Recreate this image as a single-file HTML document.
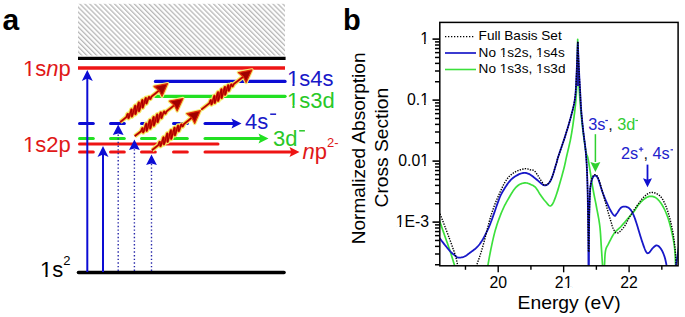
<!DOCTYPE html>
<html><head><meta charset="utf-8"><style>
html,body{margin:0;padding:0;background:#fff;width:685px;height:317px;overflow:hidden}
svg{display:block}
text{font-family:"Liberation Sans", sans-serif}
</style></head><body>
<svg width="685" height="317" viewBox="0 0 685 317" font-family='"Liberation Sans", sans-serif'><text x="2.5" y="30" font-size="30" font-weight="bold" fill="#000">a</text>
<defs><pattern id="hatch" patternUnits="userSpaceOnUse" width="3.5" height="3.5" patternTransform="translate(78.8,3.8) rotate(-45)"><rect width="3.5" height="3.5" fill="#fff"/><rect x="0" y="0" width="1.3" height="3.5" fill="#b8b8b8"/></pattern></defs>
<rect x="78" y="3.8" width="207" height="51.7" fill="url(#hatch)"/>
<line x1="78.00" y1="58.30" x2="285.60" y2="58.30" stroke="#000" stroke-width="3.2" stroke-linecap="butt" />
<line x1="78.00" y1="68.00" x2="285.00" y2="68.00" stroke="#ee1414" stroke-width="3.5" stroke-linecap="butt" />
<line x1="155.50" y1="81.40" x2="285.00" y2="81.40" stroke="#0c0cd4" stroke-width="3.3" stroke-linecap="round" />
<line x1="155.50" y1="96.30" x2="285.00" y2="96.30" stroke="#22e022" stroke-width="3.3" stroke-linecap="round" />
<line x1="79.50" y1="123.60" x2="93.30" y2="123.60" stroke="#0c0cd4" stroke-width="3" stroke-linecap="round" />
<line x1="110.50" y1="123.60" x2="124.30" y2="123.60" stroke="#0c0cd4" stroke-width="3" stroke-linecap="round" />
<line x1="141.50" y1="123.60" x2="155.30" y2="123.60" stroke="#0c0cd4" stroke-width="3" stroke-linecap="round" />
<line x1="173.50" y1="123.60" x2="187.30" y2="123.60" stroke="#0c0cd4" stroke-width="3" stroke-linecap="round" />
<line x1="79.50" y1="138.60" x2="93.30" y2="138.60" stroke="#22e022" stroke-width="3" stroke-linecap="round" />
<line x1="110.50" y1="138.60" x2="124.30" y2="138.60" stroke="#22e022" stroke-width="3" stroke-linecap="round" />
<line x1="141.50" y1="138.60" x2="155.30" y2="138.60" stroke="#22e022" stroke-width="3" stroke-linecap="round" />
<line x1="173.50" y1="138.60" x2="187.30" y2="138.60" stroke="#22e022" stroke-width="3" stroke-linecap="round" />
<line x1="79.50" y1="152.10" x2="93.30" y2="152.10" stroke="#ee1414" stroke-width="3" stroke-linecap="round" />
<line x1="110.50" y1="152.10" x2="124.30" y2="152.10" stroke="#ee1414" stroke-width="3" stroke-linecap="round" />
<line x1="141.50" y1="152.10" x2="155.30" y2="152.10" stroke="#ee1414" stroke-width="3" stroke-linecap="round" />
<line x1="173.50" y1="152.10" x2="187.30" y2="152.10" stroke="#ee1414" stroke-width="3" stroke-linecap="round" />
<line x1="79.50" y1="144.10" x2="218.00" y2="144.10" stroke="#ee1414" stroke-width="3" stroke-linecap="round" />
<line x1="205.00" y1="123.60" x2="235.50" y2="123.60" stroke="#0c0cd4" stroke-width="3" stroke-linecap="round" />
<path d="M241.5,123.6 L231.5,118.6 L233.5,123.6 L231.5,128.6 Z" fill="#0c0cd4"/>
<line x1="205.00" y1="138.60" x2="262.50" y2="138.60" stroke="#22e022" stroke-width="3" stroke-linecap="round" />
<path d="M268.5,138.6 L258.5,133.6 L260.5,138.6 L258.5,143.6 Z" fill="#22e022"/>
<line x1="205.00" y1="152.10" x2="293.50" y2="152.10" stroke="#ee1414" stroke-width="3" stroke-linecap="round" />
<path d="M299.5,152.1 L289.5,147.1 L291.5,152.1 L289.5,157.1 Z" fill="#ee1414"/>
<line x1="78.50" y1="272.50" x2="284.00" y2="272.50" stroke="#000" stroke-width="3.6" stroke-linecap="round" />
<line x1="87.30" y1="272.00" x2="87.30" y2="78.00" stroke="#0c0cd4" stroke-width="2" stroke-linecap="butt" />
<path d="M87.3,70 L92.8,81 L87.3,78.5 L81.8,81 Z" fill="#0c0cd4"/>
<line x1="103.00" y1="272.00" x2="103.00" y2="154.00" stroke="#0c0cd4" stroke-width="2" stroke-linecap="butt" />
<path d="M103,146 L108.5,157 L103,154.5 L97.5,157 Z" fill="#0c0cd4"/>
<line x1="118.20" y1="271.00" x2="118.20" y2="133.60" stroke="#2424a8" stroke-width="1.4" stroke-linecap="butt" stroke-dasharray="1.4 2.25"/>
<path d="M118.2,124.6 L123.60000000000001,135.1 L118.2,133.5 L112.8,135.1 Z" fill="#0c0cd4"/>
<line x1="134.40" y1="271.00" x2="134.40" y2="148.60" stroke="#2424a8" stroke-width="1.4" stroke-linecap="butt" stroke-dasharray="1.4 2.25"/>
<path d="M134.4,139.6 L139.8,150.1 L134.4,148.5 L129.0,150.1 Z" fill="#0c0cd4"/>
<line x1="151.50" y1="271.00" x2="151.50" y2="163.60" stroke="#2424a8" stroke-width="1.4" stroke-linecap="butt" stroke-dasharray="1.4 2.25"/>
<path d="M151.5,154.6 L156.9,165.1 L151.5,163.5 L146.1,165.1 Z" fill="#0c0cd4"/>
<path d="M120.20,122.10 L126.36,117.09 L126.74,116.06 L127.12,115.01 L127.47,114.21 L127.75,113.84 L127.95,113.99 L128.08,114.64 L128.16,115.64 L128.21,116.75 L128.30,117.70 L128.44,118.22 L128.68,118.12 L129.03,117.34 L129.46,115.96 L129.95,114.18 L130.46,112.32 L130.92,110.71 L131.30,109.66 L131.57,109.36 L131.72,109.88 L131.77,111.09 L131.75,112.72 L131.72,114.42 L131.73,115.80 L131.85,116.52 L132.10,116.37 L132.48,115.32 L132.98,113.52 L133.54,111.26 L134.11,108.97 L134.62,107.04 L135.03,105.85 L135.29,105.61 L135.41,106.32 L135.40,107.84 L135.33,109.81 L135.26,111.81 L135.25,113.39 L135.35,114.19 L135.61,114.00 L136.01,112.81 L136.54,110.81 L137.13,108.35 L137.72,105.89 L138.25,103.87 L138.66,102.66 L138.91,102.45 L139.02,103.25 L139.00,104.85 L138.92,106.89 L138.84,108.92 L138.83,110.49 L138.94,111.25 L139.20,111.02 L139.61,109.81 L140.13,107.82 L140.72,105.43 L141.30,103.08 L141.81,101.18 L142.20,100.06 L142.45,99.90 L142.56,100.66 L142.56,102.14 L142.51,103.98 L142.47,105.77 L142.49,107.11 L142.63,107.71 L142.89,107.44 L143.29,106.32 L143.77,104.57 L144.31,102.52 L144.83,100.54 L145.29,98.97 L145.65,98.08 L145.89,97.96 L146.03,98.57 L146.08,99.70 L146.10,101.06 L146.13,102.34 L146.23,103.23 L146.40,103.54 L146.68,103.21 L147.04,102.31 L147.46,101.03 L147.90,99.60 L148.31,98.31 L148.68,97.37 L148.98,96.89 L149.20,96.89 L149.37,97.29 L149.53,97.68 L149.69,98.15 L149.84,98.62 L150.02,98.95 L150.23,99.04 L150.49,98.84 L150.79,98.33 L151.13,97.58 L151.48,96.69 L159.22,90.41" fill="none" stroke="#f2ee66" stroke-width="4.5" stroke-linejoin="round" stroke-linecap="butt"/>
<path d="M167.60,83.60 L154.08,86.46 L159.06,90.54 L162.02,96.24 Z" fill="#f4f07a" stroke="#f4f07a" stroke-width="3.4" stroke-linejoin="round"/>
<path d="M120.20,122.10 L126.36,117.09 L126.74,116.06 L127.12,115.01 L127.47,114.21 L127.75,113.84 L127.95,113.99 L128.08,114.64 L128.16,115.64 L128.21,116.75 L128.30,117.70 L128.44,118.22 L128.68,118.12 L129.03,117.34 L129.46,115.96 L129.95,114.18 L130.46,112.32 L130.92,110.71 L131.30,109.66 L131.57,109.36 L131.72,109.88 L131.77,111.09 L131.75,112.72 L131.72,114.42 L131.73,115.80 L131.85,116.52 L132.10,116.37 L132.48,115.32 L132.98,113.52 L133.54,111.26 L134.11,108.97 L134.62,107.04 L135.03,105.85 L135.29,105.61 L135.41,106.32 L135.40,107.84 L135.33,109.81 L135.26,111.81 L135.25,113.39 L135.35,114.19 L135.61,114.00 L136.01,112.81 L136.54,110.81 L137.13,108.35 L137.72,105.89 L138.25,103.87 L138.66,102.66 L138.91,102.45 L139.02,103.25 L139.00,104.85 L138.92,106.89 L138.84,108.92 L138.83,110.49 L138.94,111.25 L139.20,111.02 L139.61,109.81 L140.13,107.82 L140.72,105.43 L141.30,103.08 L141.81,101.18 L142.20,100.06 L142.45,99.90 L142.56,100.66 L142.56,102.14 L142.51,103.98 L142.47,105.77 L142.49,107.11 L142.63,107.71 L142.89,107.44 L143.29,106.32 L143.77,104.57 L144.31,102.52 L144.83,100.54 L145.29,98.97 L145.65,98.08 L145.89,97.96 L146.03,98.57 L146.08,99.70 L146.10,101.06 L146.13,102.34 L146.23,103.23 L146.40,103.54 L146.68,103.21 L147.04,102.31 L147.46,101.03 L147.90,99.60 L148.31,98.31 L148.68,97.37 L148.98,96.89 L149.20,96.89 L149.37,97.29 L149.53,97.68 L149.69,98.15 L149.84,98.62 L150.02,98.95 L150.23,99.04 L150.49,98.84 L150.79,98.33 L151.13,97.58 L151.48,96.69 L159.22,90.41" fill="none" stroke="#e83010" stroke-width="2.2" stroke-linejoin="round"/>
<path d="M120.20,122.10 L126.36,117.09 L126.74,116.06 L127.12,115.01 L127.47,114.21 L127.75,113.84 L127.95,113.99 L128.08,114.64 L128.16,115.64 L128.21,116.75 L128.30,117.70 L128.44,118.22 L128.68,118.12 L129.03,117.34 L129.46,115.96 L129.95,114.18 L130.46,112.32 L130.92,110.71 L131.30,109.66 L131.57,109.36 L131.72,109.88 L131.77,111.09 L131.75,112.72 L131.72,114.42 L131.73,115.80 L131.85,116.52 L132.10,116.37 L132.48,115.32 L132.98,113.52 L133.54,111.26 L134.11,108.97 L134.62,107.04 L135.03,105.85 L135.29,105.61 L135.41,106.32 L135.40,107.84 L135.33,109.81 L135.26,111.81 L135.25,113.39 L135.35,114.19 L135.61,114.00 L136.01,112.81 L136.54,110.81 L137.13,108.35 L137.72,105.89 L138.25,103.87 L138.66,102.66 L138.91,102.45 L139.02,103.25 L139.00,104.85 L138.92,106.89 L138.84,108.92 L138.83,110.49 L138.94,111.25 L139.20,111.02 L139.61,109.81 L140.13,107.82 L140.72,105.43 L141.30,103.08 L141.81,101.18 L142.20,100.06 L142.45,99.90 L142.56,100.66 L142.56,102.14 L142.51,103.98 L142.47,105.77 L142.49,107.11 L142.63,107.71 L142.89,107.44 L143.29,106.32 L143.77,104.57 L144.31,102.52 L144.83,100.54 L145.29,98.97 L145.65,98.08 L145.89,97.96 L146.03,98.57 L146.08,99.70 L146.10,101.06 L146.13,102.34 L146.23,103.23 L146.40,103.54 L146.68,103.21 L147.04,102.31 L147.46,101.03 L147.90,99.60 L148.31,98.31 L148.68,97.37 L148.98,96.89 L149.20,96.89 L149.37,97.29 L149.53,97.68 L149.69,98.15 L149.84,98.62 L150.02,98.95 L150.23,99.04 L150.49,98.84 L150.79,98.33 L151.13,97.58 L151.48,96.69 L159.22,90.41" fill="none" stroke="#a80000" stroke-width="1.1" stroke-linejoin="round"/>
<path d="M167.60,83.60 L154.08,86.46 L159.06,90.54 L162.02,96.24 Z" fill="#a00000" stroke="#e02808" stroke-width="1.2" stroke-linejoin="round"/>
<path d="M134.70,136.20 L140.98,131.30 L141.36,130.27 L141.75,129.23 L142.10,128.43 L142.39,128.06 L142.59,128.22 L142.73,128.87 L142.81,129.87 L142.87,130.99 L142.96,131.94 L143.11,132.47 L143.35,132.37 L143.70,131.60 L144.14,130.22 L144.64,128.44 L145.15,126.59 L145.62,124.98 L146.00,123.93 L146.28,123.65 L146.43,124.17 L146.48,125.38 L146.46,127.02 L146.44,128.72 L146.46,130.10 L146.59,130.82 L146.84,130.68 L147.22,129.64 L147.73,127.84 L148.29,125.59 L148.87,123.30 L149.39,121.38 L149.79,120.19 L150.06,119.95 L150.18,120.67 L150.19,122.19 L150.12,124.16 L150.05,126.17 L150.04,127.75 L150.15,128.55 L150.41,128.37 L150.82,127.18 L151.35,125.19 L151.95,122.74 L152.55,120.28 L153.08,118.26 L153.49,117.05 L153.75,116.85 L153.86,117.66 L153.85,119.26 L153.78,121.31 L153.70,123.34 L153.70,124.91 L153.81,125.68 L154.08,125.45 L154.49,124.24 L155.02,122.27 L155.61,119.88 L156.19,117.53 L156.71,115.63 L157.10,114.52 L157.36,114.36 L157.47,115.13 L157.48,116.61 L157.44,118.45 L157.40,120.25 L157.43,121.59 L157.57,122.20 L157.84,121.93 L158.23,120.82 L158.73,119.08 L159.26,117.03 L159.79,115.05 L160.26,113.49 L160.62,112.60 L160.87,112.48 L161.01,113.09 L161.07,114.23 L161.09,115.60 L161.13,116.88 L161.23,117.77 L161.41,118.09 L161.69,117.77 L162.06,116.87 L162.48,115.59 L162.92,114.17 L163.34,112.89 L163.72,111.94 L164.02,111.47 L164.25,111.47 L164.42,111.88 L164.59,112.27 L164.75,112.75 L164.91,113.22 L165.09,113.56 L165.31,113.65 L165.57,113.45 L165.87,112.95 L166.22,112.20 L166.58,111.32 L174.49,105.15" fill="none" stroke="#f2ee66" stroke-width="4.5" stroke-linejoin="round" stroke-linecap="butt"/>
<path d="M183.00,98.50 L169.43,101.10 L174.33,105.27 L177.18,111.03 Z" fill="#f4f07a" stroke="#f4f07a" stroke-width="3.4" stroke-linejoin="round"/>
<path d="M134.70,136.20 L140.98,131.30 L141.36,130.27 L141.75,129.23 L142.10,128.43 L142.39,128.06 L142.59,128.22 L142.73,128.87 L142.81,129.87 L142.87,130.99 L142.96,131.94 L143.11,132.47 L143.35,132.37 L143.70,131.60 L144.14,130.22 L144.64,128.44 L145.15,126.59 L145.62,124.98 L146.00,123.93 L146.28,123.65 L146.43,124.17 L146.48,125.38 L146.46,127.02 L146.44,128.72 L146.46,130.10 L146.59,130.82 L146.84,130.68 L147.22,129.64 L147.73,127.84 L148.29,125.59 L148.87,123.30 L149.39,121.38 L149.79,120.19 L150.06,119.95 L150.18,120.67 L150.19,122.19 L150.12,124.16 L150.05,126.17 L150.04,127.75 L150.15,128.55 L150.41,128.37 L150.82,127.18 L151.35,125.19 L151.95,122.74 L152.55,120.28 L153.08,118.26 L153.49,117.05 L153.75,116.85 L153.86,117.66 L153.85,119.26 L153.78,121.31 L153.70,123.34 L153.70,124.91 L153.81,125.68 L154.08,125.45 L154.49,124.24 L155.02,122.27 L155.61,119.88 L156.19,117.53 L156.71,115.63 L157.10,114.52 L157.36,114.36 L157.47,115.13 L157.48,116.61 L157.44,118.45 L157.40,120.25 L157.43,121.59 L157.57,122.20 L157.84,121.93 L158.23,120.82 L158.73,119.08 L159.26,117.03 L159.79,115.05 L160.26,113.49 L160.62,112.60 L160.87,112.48 L161.01,113.09 L161.07,114.23 L161.09,115.60 L161.13,116.88 L161.23,117.77 L161.41,118.09 L161.69,117.77 L162.06,116.87 L162.48,115.59 L162.92,114.17 L163.34,112.89 L163.72,111.94 L164.02,111.47 L164.25,111.47 L164.42,111.88 L164.59,112.27 L164.75,112.75 L164.91,113.22 L165.09,113.56 L165.31,113.65 L165.57,113.45 L165.87,112.95 L166.22,112.20 L166.58,111.32 L174.49,105.15" fill="none" stroke="#e83010" stroke-width="2.2" stroke-linejoin="round"/>
<path d="M134.70,136.20 L140.98,131.30 L141.36,130.27 L141.75,129.23 L142.10,128.43 L142.39,128.06 L142.59,128.22 L142.73,128.87 L142.81,129.87 L142.87,130.99 L142.96,131.94 L143.11,132.47 L143.35,132.37 L143.70,131.60 L144.14,130.22 L144.64,128.44 L145.15,126.59 L145.62,124.98 L146.00,123.93 L146.28,123.65 L146.43,124.17 L146.48,125.38 L146.46,127.02 L146.44,128.72 L146.46,130.10 L146.59,130.82 L146.84,130.68 L147.22,129.64 L147.73,127.84 L148.29,125.59 L148.87,123.30 L149.39,121.38 L149.79,120.19 L150.06,119.95 L150.18,120.67 L150.19,122.19 L150.12,124.16 L150.05,126.17 L150.04,127.75 L150.15,128.55 L150.41,128.37 L150.82,127.18 L151.35,125.19 L151.95,122.74 L152.55,120.28 L153.08,118.26 L153.49,117.05 L153.75,116.85 L153.86,117.66 L153.85,119.26 L153.78,121.31 L153.70,123.34 L153.70,124.91 L153.81,125.68 L154.08,125.45 L154.49,124.24 L155.02,122.27 L155.61,119.88 L156.19,117.53 L156.71,115.63 L157.10,114.52 L157.36,114.36 L157.47,115.13 L157.48,116.61 L157.44,118.45 L157.40,120.25 L157.43,121.59 L157.57,122.20 L157.84,121.93 L158.23,120.82 L158.73,119.08 L159.26,117.03 L159.79,115.05 L160.26,113.49 L160.62,112.60 L160.87,112.48 L161.01,113.09 L161.07,114.23 L161.09,115.60 L161.13,116.88 L161.23,117.77 L161.41,118.09 L161.69,117.77 L162.06,116.87 L162.48,115.59 L162.92,114.17 L163.34,112.89 L163.72,111.94 L164.02,111.47 L164.25,111.47 L164.42,111.88 L164.59,112.27 L164.75,112.75 L164.91,113.22 L165.09,113.56 L165.31,113.65 L165.57,113.45 L165.87,112.95 L166.22,112.20 L166.58,111.32 L174.49,105.15" fill="none" stroke="#a80000" stroke-width="1.1" stroke-linejoin="round"/>
<path d="M183.00,98.50 L169.43,101.10 L174.33,105.27 L177.18,111.03 Z" fill="#a00000" stroke="#e02808" stroke-width="1.2" stroke-linejoin="round"/>
<path d="M152.00,150.20 L158.28,145.06 L158.66,144.02 L159.05,142.97 L159.40,142.17 L159.69,141.79 L159.89,141.94 L160.03,142.58 L160.11,143.57 L160.17,144.68 L160.26,145.62 L160.41,146.14 L160.65,146.03 L161.00,145.25 L161.44,143.86 L161.94,142.07 L162.45,140.21 L162.92,138.59 L163.30,137.54 L163.58,137.24 L163.73,137.75 L163.78,138.95 L163.76,140.58 L163.74,142.27 L163.76,143.64 L163.89,144.36 L164.14,144.21 L164.52,143.15 L165.03,141.34 L165.59,139.08 L166.17,136.78 L166.69,134.85 L167.09,133.66 L167.36,133.40 L167.48,134.11 L167.49,135.62 L167.42,137.59 L167.35,139.58 L167.34,141.16 L167.45,141.95 L167.71,141.76 L168.12,140.56 L168.65,138.55 L169.25,136.09 L169.85,133.62 L170.38,131.60 L170.79,130.38 L171.05,130.17 L171.16,130.97 L171.15,132.56 L171.08,134.60 L171.00,136.62 L171.00,138.18 L171.11,138.94 L171.38,138.70 L171.79,137.48 L172.32,135.50 L172.91,133.10 L173.49,130.74 L174.01,128.83 L174.40,127.71 L174.66,127.55 L174.77,128.30 L174.78,129.77 L174.74,131.61 L174.70,133.39 L174.73,134.73 L174.87,135.33 L175.14,135.04 L175.53,133.92 L176.03,132.17 L176.56,130.11 L177.09,128.12 L177.56,126.55 L177.92,125.65 L178.17,125.53 L178.31,126.13 L178.37,127.26 L178.39,128.62 L178.43,129.88 L178.53,130.77 L178.71,131.08 L178.99,130.74 L179.36,129.84 L179.78,128.55 L180.22,127.12 L180.64,125.82 L181.02,124.87 L181.32,124.39 L181.55,124.38 L181.72,124.78 L181.89,125.16 L182.05,125.63 L182.21,126.09 L182.39,126.42 L182.61,126.51 L182.87,126.29 L183.17,125.78 L183.52,125.02 L183.88,124.13 L191.94,117.54" fill="none" stroke="#f2ee66" stroke-width="4.5" stroke-linejoin="round" stroke-linecap="butt"/>
<path d="M200.30,110.70 L186.79,113.61 L191.78,117.66 L194.77,123.36 Z" fill="#f4f07a" stroke="#f4f07a" stroke-width="3.4" stroke-linejoin="round"/>
<path d="M152.00,150.20 L158.28,145.06 L158.66,144.02 L159.05,142.97 L159.40,142.17 L159.69,141.79 L159.89,141.94 L160.03,142.58 L160.11,143.57 L160.17,144.68 L160.26,145.62 L160.41,146.14 L160.65,146.03 L161.00,145.25 L161.44,143.86 L161.94,142.07 L162.45,140.21 L162.92,138.59 L163.30,137.54 L163.58,137.24 L163.73,137.75 L163.78,138.95 L163.76,140.58 L163.74,142.27 L163.76,143.64 L163.89,144.36 L164.14,144.21 L164.52,143.15 L165.03,141.34 L165.59,139.08 L166.17,136.78 L166.69,134.85 L167.09,133.66 L167.36,133.40 L167.48,134.11 L167.49,135.62 L167.42,137.59 L167.35,139.58 L167.34,141.16 L167.45,141.95 L167.71,141.76 L168.12,140.56 L168.65,138.55 L169.25,136.09 L169.85,133.62 L170.38,131.60 L170.79,130.38 L171.05,130.17 L171.16,130.97 L171.15,132.56 L171.08,134.60 L171.00,136.62 L171.00,138.18 L171.11,138.94 L171.38,138.70 L171.79,137.48 L172.32,135.50 L172.91,133.10 L173.49,130.74 L174.01,128.83 L174.40,127.71 L174.66,127.55 L174.77,128.30 L174.78,129.77 L174.74,131.61 L174.70,133.39 L174.73,134.73 L174.87,135.33 L175.14,135.04 L175.53,133.92 L176.03,132.17 L176.56,130.11 L177.09,128.12 L177.56,126.55 L177.92,125.65 L178.17,125.53 L178.31,126.13 L178.37,127.26 L178.39,128.62 L178.43,129.88 L178.53,130.77 L178.71,131.08 L178.99,130.74 L179.36,129.84 L179.78,128.55 L180.22,127.12 L180.64,125.82 L181.02,124.87 L181.32,124.39 L181.55,124.38 L181.72,124.78 L181.89,125.16 L182.05,125.63 L182.21,126.09 L182.39,126.42 L182.61,126.51 L182.87,126.29 L183.17,125.78 L183.52,125.02 L183.88,124.13 L191.94,117.54" fill="none" stroke="#e83010" stroke-width="2.2" stroke-linejoin="round"/>
<path d="M152.00,150.20 L158.28,145.06 L158.66,144.02 L159.05,142.97 L159.40,142.17 L159.69,141.79 L159.89,141.94 L160.03,142.58 L160.11,143.57 L160.17,144.68 L160.26,145.62 L160.41,146.14 L160.65,146.03 L161.00,145.25 L161.44,143.86 L161.94,142.07 L162.45,140.21 L162.92,138.59 L163.30,137.54 L163.58,137.24 L163.73,137.75 L163.78,138.95 L163.76,140.58 L163.74,142.27 L163.76,143.64 L163.89,144.36 L164.14,144.21 L164.52,143.15 L165.03,141.34 L165.59,139.08 L166.17,136.78 L166.69,134.85 L167.09,133.66 L167.36,133.40 L167.48,134.11 L167.49,135.62 L167.42,137.59 L167.35,139.58 L167.34,141.16 L167.45,141.95 L167.71,141.76 L168.12,140.56 L168.65,138.55 L169.25,136.09 L169.85,133.62 L170.38,131.60 L170.79,130.38 L171.05,130.17 L171.16,130.97 L171.15,132.56 L171.08,134.60 L171.00,136.62 L171.00,138.18 L171.11,138.94 L171.38,138.70 L171.79,137.48 L172.32,135.50 L172.91,133.10 L173.49,130.74 L174.01,128.83 L174.40,127.71 L174.66,127.55 L174.77,128.30 L174.78,129.77 L174.74,131.61 L174.70,133.39 L174.73,134.73 L174.87,135.33 L175.14,135.04 L175.53,133.92 L176.03,132.17 L176.56,130.11 L177.09,128.12 L177.56,126.55 L177.92,125.65 L178.17,125.53 L178.31,126.13 L178.37,127.26 L178.39,128.62 L178.43,129.88 L178.53,130.77 L178.71,131.08 L178.99,130.74 L179.36,129.84 L179.78,128.55 L180.22,127.12 L180.64,125.82 L181.02,124.87 L181.32,124.39 L181.55,124.38 L181.72,124.78 L181.89,125.16 L182.05,125.63 L182.21,126.09 L182.39,126.42 L182.61,126.51 L182.87,126.29 L183.17,125.78 L183.52,125.02 L183.88,124.13 L191.94,117.54" fill="none" stroke="#a80000" stroke-width="1.1" stroke-linejoin="round"/>
<path d="M200.30,110.70 L186.79,113.61 L191.78,117.66 L194.77,123.36 Z" fill="#a00000" stroke="#e02808" stroke-width="1.2" stroke-linejoin="round"/>
<path d="M201.30,109.60 L209.40,103.25 L209.77,102.22 L210.14,101.20 L210.48,100.41 L210.75,100.05 L210.94,100.21 L211.06,100.87 L211.13,101.89 L211.18,103.01 L211.25,103.98 L211.39,104.51 L211.62,104.43 L211.96,103.66 L212.38,102.29 L212.87,100.53 L213.36,98.68 L213.82,97.08 L214.19,96.04 L214.45,95.77 L214.59,96.30 L214.63,97.52 L214.60,99.16 L214.56,100.88 L214.57,102.27 L214.68,103.00 L214.92,102.87 L215.29,101.83 L215.78,100.04 L216.34,97.80 L216.90,95.52 L217.40,93.61 L217.80,92.43 L218.05,92.20 L218.16,92.93 L218.15,94.46 L218.07,96.44 L217.99,98.45 L217.97,100.05 L218.06,100.86 L218.31,100.69 L218.70,99.51 L219.22,97.52 L219.81,95.08 L220.39,92.63 L220.91,90.63 L221.31,89.43 L221.56,89.24 L221.65,90.05 L221.63,91.67 L221.54,93.72 L221.45,95.76 L221.43,97.35 L221.54,98.12 L221.79,97.90 L222.19,96.70 L222.70,94.73 L223.27,92.36 L223.85,90.01 L224.35,88.13 L224.73,87.03 L224.97,86.88 L225.07,87.66 L225.07,89.14 L225.01,91.00 L224.96,92.80 L224.97,94.16 L225.10,94.77 L225.36,94.51 L225.74,93.41 L226.22,91.68 L226.74,89.64 L227.26,87.67 L227.71,86.12 L228.06,85.23 L228.30,85.13 L228.42,85.75 L228.47,86.90 L228.48,88.28 L228.51,89.56 L228.59,90.47 L228.76,90.79 L229.02,90.48 L229.38,89.59 L229.78,88.32 L230.21,86.91 L230.62,85.64 L230.98,84.70 L231.27,84.24 L231.49,84.25 L231.64,84.67 L231.80,85.07 L231.95,85.55 L232.10,86.04 L232.26,86.38 L232.46,86.49 L232.71,86.30 L233.01,85.80 L233.33,85.06 L233.68,84.19 L243.40,76.57" fill="none" stroke="#f2ee66" stroke-width="4.5" stroke-linejoin="round" stroke-linecap="butt"/>
<path d="M251.90,69.90 L238.33,72.54 L243.25,76.69 L246.11,82.45 Z" fill="#f4f07a" stroke="#f4f07a" stroke-width="3.4" stroke-linejoin="round"/>
<path d="M201.30,109.60 L209.40,103.25 L209.77,102.22 L210.14,101.20 L210.48,100.41 L210.75,100.05 L210.94,100.21 L211.06,100.87 L211.13,101.89 L211.18,103.01 L211.25,103.98 L211.39,104.51 L211.62,104.43 L211.96,103.66 L212.38,102.29 L212.87,100.53 L213.36,98.68 L213.82,97.08 L214.19,96.04 L214.45,95.77 L214.59,96.30 L214.63,97.52 L214.60,99.16 L214.56,100.88 L214.57,102.27 L214.68,103.00 L214.92,102.87 L215.29,101.83 L215.78,100.04 L216.34,97.80 L216.90,95.52 L217.40,93.61 L217.80,92.43 L218.05,92.20 L218.16,92.93 L218.15,94.46 L218.07,96.44 L217.99,98.45 L217.97,100.05 L218.06,100.86 L218.31,100.69 L218.70,99.51 L219.22,97.52 L219.81,95.08 L220.39,92.63 L220.91,90.63 L221.31,89.43 L221.56,89.24 L221.65,90.05 L221.63,91.67 L221.54,93.72 L221.45,95.76 L221.43,97.35 L221.54,98.12 L221.79,97.90 L222.19,96.70 L222.70,94.73 L223.27,92.36 L223.85,90.01 L224.35,88.13 L224.73,87.03 L224.97,86.88 L225.07,87.66 L225.07,89.14 L225.01,91.00 L224.96,92.80 L224.97,94.16 L225.10,94.77 L225.36,94.51 L225.74,93.41 L226.22,91.68 L226.74,89.64 L227.26,87.67 L227.71,86.12 L228.06,85.23 L228.30,85.13 L228.42,85.75 L228.47,86.90 L228.48,88.28 L228.51,89.56 L228.59,90.47 L228.76,90.79 L229.02,90.48 L229.38,89.59 L229.78,88.32 L230.21,86.91 L230.62,85.64 L230.98,84.70 L231.27,84.24 L231.49,84.25 L231.64,84.67 L231.80,85.07 L231.95,85.55 L232.10,86.04 L232.26,86.38 L232.46,86.49 L232.71,86.30 L233.01,85.80 L233.33,85.06 L233.68,84.19 L243.40,76.57" fill="none" stroke="#e83010" stroke-width="2.2" stroke-linejoin="round"/>
<path d="M201.30,109.60 L209.40,103.25 L209.77,102.22 L210.14,101.20 L210.48,100.41 L210.75,100.05 L210.94,100.21 L211.06,100.87 L211.13,101.89 L211.18,103.01 L211.25,103.98 L211.39,104.51 L211.62,104.43 L211.96,103.66 L212.38,102.29 L212.87,100.53 L213.36,98.68 L213.82,97.08 L214.19,96.04 L214.45,95.77 L214.59,96.30 L214.63,97.52 L214.60,99.16 L214.56,100.88 L214.57,102.27 L214.68,103.00 L214.92,102.87 L215.29,101.83 L215.78,100.04 L216.34,97.80 L216.90,95.52 L217.40,93.61 L217.80,92.43 L218.05,92.20 L218.16,92.93 L218.15,94.46 L218.07,96.44 L217.99,98.45 L217.97,100.05 L218.06,100.86 L218.31,100.69 L218.70,99.51 L219.22,97.52 L219.81,95.08 L220.39,92.63 L220.91,90.63 L221.31,89.43 L221.56,89.24 L221.65,90.05 L221.63,91.67 L221.54,93.72 L221.45,95.76 L221.43,97.35 L221.54,98.12 L221.79,97.90 L222.19,96.70 L222.70,94.73 L223.27,92.36 L223.85,90.01 L224.35,88.13 L224.73,87.03 L224.97,86.88 L225.07,87.66 L225.07,89.14 L225.01,91.00 L224.96,92.80 L224.97,94.16 L225.10,94.77 L225.36,94.51 L225.74,93.41 L226.22,91.68 L226.74,89.64 L227.26,87.67 L227.71,86.12 L228.06,85.23 L228.30,85.13 L228.42,85.75 L228.47,86.90 L228.48,88.28 L228.51,89.56 L228.59,90.47 L228.76,90.79 L229.02,90.48 L229.38,89.59 L229.78,88.32 L230.21,86.91 L230.62,85.64 L230.98,84.70 L231.27,84.24 L231.49,84.25 L231.64,84.67 L231.80,85.07 L231.95,85.55 L232.10,86.04 L232.26,86.38 L232.46,86.49 L232.71,86.30 L233.01,85.80 L233.33,85.06 L233.68,84.19 L243.40,76.57" fill="none" stroke="#a80000" stroke-width="1.1" stroke-linejoin="round"/>
<path d="M251.90,69.90 L238.33,72.54 L243.25,76.69 L246.11,82.45 Z" fill="#a00000" stroke="#e02808" stroke-width="1.2" stroke-linejoin="round"/>
<text x="23" y="76.2" font-size="22" fill="#e01818" text-anchor="start" font-weight="normal" >1s<tspan font-style="italic">n</tspan>p</text>
<text x="23" y="151.9" font-size="22" fill="#e01818" text-anchor="start" font-weight="normal" >1s2p</text>
<text x="40" y="277.1" font-size="22" fill="#000" text-anchor="start" font-weight="normal" >1s<tspan font-size="13" dy="-12">2</tspan></text>
<text x="287" y="85.9" font-size="22" fill="#1818c8" text-anchor="start" font-weight="normal" >1s4s</text>
<text x="287" y="107.5" font-size="22" fill="#28c828" text-anchor="start" font-weight="normal" >1s3d</text>
<rect x="23.77" y="73.77" width="4.66" height="3.63" fill="#fff"/>
<rect x="30.55" y="73.77" width="4.51" height="3.63" fill="#fff"/>
<rect x="23.77" y="149.47" width="4.66" height="3.63" fill="#fff"/>
<rect x="30.55" y="149.47" width="4.51" height="3.63" fill="#fff"/>
<rect x="40.77" y="274.67" width="4.66" height="3.63" fill="#fff"/>
<rect x="47.55" y="274.67" width="4.51" height="3.63" fill="#fff"/>
<rect x="287.77" y="83.47" width="4.66" height="3.63" fill="#fff"/>
<rect x="294.55" y="83.47" width="4.51" height="3.63" fill="#fff"/>
<rect x="287.77" y="105.07" width="4.66" height="3.63" fill="#fff"/>
<rect x="294.55" y="105.07" width="4.51" height="3.63" fill="#fff"/>
<text x="245" y="129" font-size="22" fill="#1818c8" text-anchor="start" font-weight="normal" >4s</text>
<line x1="270.20" y1="114.20" x2="276.10" y2="114.20" stroke="#1818c8" stroke-width="1.5" stroke-linecap="butt" />
<text x="273" y="145.6" font-size="22" fill="#28c828" text-anchor="start" font-weight="normal" >3d</text>
<line x1="299.20" y1="130.80" x2="304.90" y2="130.80" stroke="#28c828" stroke-width="1.5" stroke-linecap="butt" />
<text x="302.6" y="159.2" font-size="22" fill="#e01818" text-anchor="start" font-weight="normal" ><tspan font-style="italic">n</tspan>p<tspan font-size="13" dy="-12">2-</tspan></text>
<text x="343" y="30" font-size="29" font-weight="bold" fill="#000">b</text>
<clipPath id="pc"><rect x="439.8" y="22.4" width="238.3" height="243.4"/></clipPath>
<g clip-path="url(#pc)">
<path d="M438.50,217.50 L438.59,217.80 L438.65,217.98 L438.68,218.11 L438.72,218.27 L438.80,218.52 L438.94,218.95 L439.16,219.61 L439.50,220.60 L439.97,221.96 L440.55,223.67 L441.23,225.62 L441.96,227.74 L442.73,229.94 L443.49,232.14 L444.22,234.26 L444.90,236.20 L445.53,237.99 L446.14,239.73 L446.75,241.42 L447.34,243.08 L447.93,244.74 L448.52,246.42 L449.11,248.13 L449.70,249.90 L450.32,251.79 L450.97,253.81 L451.63,255.90 L452.28,257.99 L452.91,260.02 L453.48,261.90 L453.99,263.59 L454.40,265.00 L454.71,266.11 L454.93,266.96 L455.08,267.61 L455.17,268.13 L455.25,268.57 L455.31,268.99 L455.39,269.44 L455.50,270.00" fill="none" stroke="#3ce03c" stroke-width="1.7" stroke-linejoin="round" />
<path d="M486.80,272.00 L486.91,271.32 L487.00,270.75 L487.08,270.22 L487.17,269.68 L487.27,269.04 L487.40,268.26 L487.57,267.27 L487.80,266.00 L488.08,264.44 L488.39,262.63 L488.74,260.62 L489.12,258.46 L489.54,256.19 L489.97,253.86 L490.43,251.51 L490.90,249.20 L491.39,246.86 L491.91,244.43 L492.44,241.93 L493.01,239.39 L493.59,236.85 L494.20,234.34 L494.84,231.88 L495.50,229.50 L496.20,227.17 L496.94,224.85 L497.71,222.55 L498.50,220.29 L499.30,218.09 L500.11,215.96 L500.91,213.93 L501.70,212.00 L502.46,210.21 L503.20,208.55 L503.93,206.99 L504.67,205.49 L505.42,204.04 L506.20,202.59 L507.02,201.12 L507.90,199.60 L508.84,197.98 L509.84,196.26 L510.87,194.52 L511.94,192.78 L513.02,191.11 L514.11,189.56 L515.19,188.17 L516.25,187.00 L517.30,186.04 L518.36,185.23 L519.43,184.57 L520.49,184.03 L521.55,183.61 L522.59,183.29 L523.61,183.06 L524.60,182.90 L525.58,182.86 L526.57,182.97 L527.56,183.19 L528.52,183.51 L529.44,183.87 L530.32,184.27 L531.15,184.65 L531.90,185.00 L532.56,185.31 L533.14,185.60 L533.66,185.89 L534.13,186.21 L534.58,186.56 L535.03,186.96 L535.50,187.44 L536.00,188.00 L536.53,188.67 L537.06,189.44 L537.60,190.28 L538.14,191.17 L538.69,192.09 L539.24,193.02 L539.81,193.93 L540.40,194.80 L541.00,195.66 L541.62,196.54 L542.25,197.43 L542.89,198.31 L543.54,199.17 L544.19,200.00 L544.85,200.78 L545.50,201.50 L546.15,202.25 L546.81,203.08 L547.48,203.92 L548.14,204.69 L548.81,205.34 L549.48,205.79 L550.14,205.96 L550.80,205.80 L551.44,205.34 L552.06,204.66 L552.67,203.76 L553.27,202.63 L553.90,201.28 L554.55,199.69 L555.25,197.87 L556.00,195.80 L556.84,193.32 L557.77,190.37 L558.76,187.08 L559.76,183.60 L560.76,180.09 L561.70,176.68 L562.56,173.54 L563.30,170.80 L563.91,168.48 L564.41,166.46 L564.83,164.65 L565.20,162.97 L565.55,161.34 L565.89,159.69 L566.27,157.94 L566.70,156.00 L567.19,153.91 L567.70,151.77 L568.23,149.57 L568.76,147.33 L569.30,145.03 L569.82,142.69 L570.33,140.31 L570.80,137.90 L571.25,135.42 L571.69,132.84 L572.12,130.21 L572.53,127.54 L572.93,124.87 L573.31,122.22 L573.66,119.62 L574.00,117.10 L574.31,114.69 L574.61,112.36 L574.88,110.10 L575.13,107.86 L575.37,105.59 L575.59,103.27 L575.80,100.85 L576.00,98.30 L576.18,95.69 L576.35,93.08 L576.50,90.43 L576.64,87.70 L576.76,84.84 L576.88,81.80 L576.99,78.53 L577.10,75.00 L577.20,71.14 L577.29,66.96 L577.36,62.55 L577.43,57.97 L577.50,53.29 L577.56,48.59 L577.63,43.93 L577.70,39.40 L577.80,43.96 L577.89,48.67 L577.99,53.44 L578.08,58.18 L578.18,62.79 L578.28,67.20 L578.39,71.30 L578.50,75.00 L578.62,78.25 L578.74,81.10 L578.87,83.64 L579.00,85.97 L579.14,88.19 L579.28,90.37 L579.44,92.61 L579.60,95.00 L579.77,97.50 L579.95,100.00 L580.13,102.50 L580.33,105.00 L580.53,107.50 L580.74,110.00 L580.96,112.50 L581.20,115.00 L581.45,117.52 L581.72,120.07 L582.00,122.63 L582.29,125.19 L582.59,127.72 L582.89,130.21 L583.20,132.64 L583.50,135.00 L583.80,137.33 L584.12,139.67 L584.43,141.99 L584.75,144.25 L585.07,146.42 L585.38,148.45 L585.70,150.33 L586.00,152.00 L586.28,153.29 L586.53,154.14 L586.77,154.74 L587.01,155.25 L587.27,155.86 L587.56,156.73 L587.90,158.06 L588.30,160.00 L588.78,162.70 L589.33,166.03 L589.94,169.82 L590.57,173.88 L591.22,178.01 L591.85,182.03 L592.45,185.76 L593.00,189.00 L593.50,191.77 L593.96,194.25 L594.41,196.51 L594.84,198.62 L595.25,200.66 L595.67,202.69 L596.08,204.78 L596.50,207.00 L596.93,209.32 L597.38,211.64 L597.83,213.98 L598.27,216.34 L598.70,218.71 L599.11,221.11 L599.48,223.54 L599.80,226.00 L600.08,228.51 L600.31,231.09 L600.51,233.70 L600.68,236.34 L600.84,238.97 L600.99,241.57 L601.14,244.12 L601.30,246.60 L601.47,249.08 L601.64,251.62 L601.80,254.16 L601.96,256.65 L602.11,259.03 L602.26,261.25 L602.39,263.26 L602.50,265.00 L602.60,266.42 L602.67,267.55 L602.74,268.46 L602.79,269.21 L602.84,269.88 L602.89,270.52 L602.94,271.20 L603.00,272.00 L604.00,272.00 L604.06,271.17 L604.11,270.42 L604.17,269.69 L604.22,268.95 L604.28,268.15 L604.34,267.26 L604.41,266.22 L604.50,265.00 L604.59,263.52 L604.66,261.80 L604.74,259.90 L604.83,257.93 L604.94,255.94 L605.08,254.04 L605.27,252.30 L605.50,250.80 L605.78,249.57 L606.09,248.54 L606.43,247.66 L606.81,246.86 L607.22,246.10 L607.67,245.30 L608.17,244.42 L608.70,243.40 L609.29,242.22 L609.93,240.92 L610.61,239.55 L611.34,238.14 L612.09,236.75 L612.85,235.40 L613.63,234.13 L614.40,233.00 L615.18,232.01 L615.99,231.13 L616.81,230.33 L617.64,229.59 L618.49,228.86 L619.33,228.12 L620.17,227.35 L621.00,226.50 L621.82,225.59 L622.65,224.64 L623.47,223.67 L624.29,222.68 L625.12,221.67 L625.94,220.67 L626.77,219.68 L627.60,218.70 L628.45,217.72 L629.33,216.73 L630.22,215.73 L631.11,214.74 L631.98,213.76 L632.81,212.80 L633.59,211.88 L634.30,211.00 L634.91,210.17 L635.44,209.39 L635.90,208.64 L636.32,207.91 L636.75,207.19 L637.20,206.48 L637.71,205.75 L638.30,205.00 L638.98,204.21 L639.72,203.37 L640.50,202.51 L641.31,201.66 L642.14,200.83 L642.98,200.05 L643.80,199.35 L644.60,198.75 L645.38,198.22 L646.15,197.74 L646.93,197.32 L647.70,196.95 L648.47,196.66 L649.25,196.44 L650.02,196.30 L650.80,196.25 L651.58,196.28 L652.37,196.39 L653.16,196.57 L653.95,196.83 L654.74,197.17 L655.53,197.60 L656.32,198.13 L657.10,198.75 L657.89,199.48 L658.68,200.31 L659.48,201.23 L660.27,202.24 L661.05,203.33 L661.82,204.50 L662.57,205.72 L663.30,207.00 L664.00,208.34 L664.69,209.75 L665.37,211.23 L666.02,212.77 L666.67,214.39 L667.29,216.06 L667.90,217.80 L668.50,219.60 L669.09,221.51 L669.67,223.55 L670.24,225.67 L670.79,227.85 L671.32,230.04 L671.82,232.20 L672.28,234.28 L672.70,236.25 L673.07,238.09 L673.40,239.85 L673.70,241.54 L673.96,243.19 L674.20,244.84 L674.42,246.50 L674.61,248.21 L674.80,250.00 L674.96,251.92 L675.10,253.99 L675.21,256.12 L675.31,258.26 L675.39,260.34 L675.46,262.30 L675.53,264.08 L675.60,265.60 L675.67,266.84 L675.73,267.85 L675.78,268.67 L675.83,269.38 L675.87,270.00 L675.91,270.62 L675.95,271.26 L676.00,272.00" fill="none" stroke="#3ce03c" stroke-width="1.7" stroke-linejoin="round" />
<path d="M438.00,236.50 L438.16,236.65 L438.28,236.75 L438.39,236.82 L438.51,236.91 L438.65,237.03 L438.85,237.24 L439.13,237.55 L439.50,238.00 L439.99,238.61 L440.57,239.37 L441.22,240.23 L441.93,241.17 L442.67,242.15 L443.43,243.14 L444.18,244.10 L444.90,245.00 L445.62,245.88 L446.36,246.79 L447.11,247.70 L447.87,248.61 L448.62,249.49 L449.35,250.32 L450.04,251.10 L450.70,251.80 L451.32,252.42 L451.90,252.98 L452.47,253.48 L453.01,253.94 L453.53,254.37 L454.03,254.76 L454.52,255.14 L455.00,255.50 L455.44,255.86 L455.83,256.21 L456.19,256.55 L456.54,256.85 L456.90,257.12 L457.30,257.34 L457.76,257.50 L458.30,257.60 L458.93,257.64 L459.62,257.62 L460.37,257.56 L461.16,257.45 L461.97,257.29 L462.80,257.08 L463.61,256.81 L464.40,256.50 L465.18,256.12 L465.96,255.67 L466.75,255.15 L467.54,254.59 L468.33,254.00 L469.12,253.40 L469.91,252.79 L470.70,252.20 L471.50,251.62 L472.31,251.03 L473.13,250.43 L473.94,249.82 L474.75,249.19 L475.53,248.55 L476.28,247.89 L477.00,247.20 L477.68,246.49 L478.33,245.76 L478.95,245.00 L479.55,244.23 L480.13,243.44 L480.70,242.64 L481.25,241.83 L481.80,241.00 L482.33,240.16 L482.84,239.32 L483.33,238.46 L483.81,237.59 L484.28,236.70 L484.75,235.79 L485.22,234.86 L485.70,233.90 L486.19,232.93 L486.68,231.94 L487.16,230.94 L487.65,229.91 L488.14,228.86 L488.62,227.78 L489.11,226.66 L489.60,225.50 L490.09,224.29 L490.57,223.05 L491.06,221.76 L491.54,220.44 L492.03,219.10 L492.52,217.74 L493.01,216.37 L493.50,215.00 L493.99,213.60 L494.49,212.16 L494.98,210.70 L495.48,209.23 L495.98,207.76 L496.48,206.31 L496.99,204.88 L497.50,203.50 L497.99,202.18 L498.44,200.91 L498.88,199.68 L499.33,198.46 L499.82,197.24 L500.36,195.98 L500.98,194.68 L501.70,193.30 L502.54,191.80 L503.49,190.19 L504.51,188.50 L505.59,186.80 L506.71,185.13 L507.83,183.54 L508.93,182.08 L510.00,180.80 L511.05,179.69 L512.12,178.70 L513.20,177.82 L514.27,177.03 L515.33,176.32 L516.37,175.69 L517.36,175.12 L518.30,174.60 L519.19,174.15 L520.04,173.78 L520.85,173.49 L521.63,173.26 L522.39,173.10 L523.14,172.99 L523.87,172.92 L524.60,172.90 L525.31,172.92 L525.99,173.00 L526.65,173.12 L527.30,173.30 L527.95,173.53 L528.61,173.80 L529.29,174.13 L530.00,174.50 L530.73,174.93 L531.45,175.42 L532.19,175.97 L532.94,176.56 L533.72,177.19 L534.52,177.85 L535.36,178.52 L536.25,179.20 L537.21,179.98 L538.24,180.91 L539.32,181.92 L540.43,182.92 L541.53,183.84 L542.61,184.62 L543.64,185.16 L544.60,185.40 L545.48,185.37 L546.32,185.15 L547.13,184.74 L547.90,184.16 L548.64,183.41 L549.37,182.50 L550.09,181.43 L550.80,180.20 L551.52,178.70 L552.24,176.86 L552.95,174.78 L553.64,172.58 L554.31,170.36 L554.93,168.22 L555.50,166.26 L556.00,164.60 L556.40,163.30 L556.69,162.29 L556.90,161.47 L557.08,160.74 L557.27,159.98 L557.51,159.09 L557.84,157.96 L558.30,156.50 L558.90,154.69 L559.60,152.64 L560.37,150.39 L561.21,147.99 L562.07,145.50 L562.94,142.95 L563.79,140.40 L564.60,137.90 L565.39,135.39 L566.20,132.81 L567.02,130.17 L567.83,127.51 L568.63,124.85 L569.39,122.21 L570.12,119.62 L570.80,117.10 L571.44,114.69 L572.05,112.36 L572.64,110.10 L573.19,107.86 L573.71,105.59 L574.19,103.27 L574.62,100.85 L575.00,98.30 L575.32,95.67 L575.57,93.01 L575.77,90.30 L575.93,87.51 L576.07,84.61 L576.20,81.58 L576.34,78.38 L576.50,75.00 L576.67,71.38 L576.84,67.52 L577.00,63.49 L577.16,59.33 L577.32,55.09 L577.48,50.84 L577.64,46.63 L577.80,42.50 L577.96,46.25 L578.13,50.10 L578.30,53.98 L578.46,57.84 L578.63,61.63 L578.79,65.29 L578.95,68.77 L579.10,72.00 L579.25,74.96 L579.39,77.70 L579.53,80.25 L579.67,82.67 L579.80,85.01 L579.93,87.31 L580.07,89.62 L580.20,92.00 L580.33,94.39 L580.44,96.74 L580.55,99.05 L580.67,101.34 L580.79,103.65 L580.92,105.98 L581.07,108.36 L581.25,110.80 L581.46,113.34 L581.69,115.98 L581.94,118.67 L582.21,121.39 L582.48,124.09 L582.76,126.73 L583.03,129.28 L583.30,131.70 L583.57,133.98 L583.84,136.15 L584.12,138.24 L584.40,140.26 L584.67,142.26 L584.93,144.24 L585.18,146.25 L585.40,148.30 L585.60,150.33 L585.79,152.27 L585.96,154.19 L586.12,156.12 L586.28,158.13 L586.42,160.24 L586.56,162.51 L586.70,165.00 L586.83,167.63 L586.96,170.31 L587.08,173.11 L587.19,176.04 L587.30,179.16 L587.41,182.50 L587.50,186.10 L587.60,190.00 L587.69,194.28 L587.78,198.95 L587.86,203.90 L587.94,209.06 L588.01,214.34 L588.08,219.65 L588.14,224.90 L588.20,230.00 L588.25,235.00 L588.30,240.00 L588.33,245.00 L588.37,250.00 L588.40,255.00 L588.43,260.00 L588.46,265.00 L588.50,270.00 L588.90,270.00 L588.92,264.27 L588.94,258.40 L588.95,252.47 L588.96,246.56 L588.98,240.78 L589.01,235.20 L589.05,229.91 L589.10,225.00 L589.17,220.39 L589.26,215.95 L589.36,211.73 L589.47,207.75 L589.58,204.05 L589.69,200.67 L589.80,197.64 L589.90,195.00 L589.99,192.86 L590.06,191.23 L590.13,190.00 L590.20,189.06 L590.28,188.31 L590.36,187.62 L590.47,186.89 L590.60,186.00 L590.75,185.00 L590.92,184.02 L591.10,183.07 L591.29,182.15 L591.50,181.27 L591.72,180.45 L591.96,179.69 L592.20,179.00 L592.45,178.36 L592.72,177.75 L593.00,177.18 L593.29,176.68 L593.59,176.26 L593.91,175.92 L594.25,175.70 L594.60,175.60 L594.97,175.58 L595.34,175.60 L595.74,175.70 L596.14,175.91 L596.57,176.26 L597.02,176.79 L597.50,177.52 L598.00,178.50 L598.53,179.78 L599.09,181.37 L599.67,183.19 L600.27,185.17 L600.89,187.24 L601.54,189.34 L602.21,191.38 L602.90,193.30 L603.63,195.18 L604.41,197.13 L605.22,199.09 L606.04,201.04 L606.87,202.94 L607.68,204.74 L608.47,206.41 L609.20,207.90 L609.90,209.26 L610.60,210.53 L611.28,211.71 L611.94,212.78 L612.57,213.71 L613.16,214.50 L613.71,215.14 L614.20,215.60 L614.61,215.86 L614.94,215.92 L615.20,215.81 L615.44,215.56 L615.67,215.21 L615.92,214.77 L616.22,214.30 L616.60,213.80 L617.05,213.21 L617.56,212.46 L618.10,211.61 L618.67,210.71 L619.26,209.81 L619.85,208.97 L620.44,208.25 L621.00,207.70 L621.55,207.30 L622.10,207.00 L622.65,206.78 L623.20,206.63 L623.75,206.55 L624.30,206.53 L624.85,206.55 L625.40,206.60 L625.96,206.69 L626.52,206.84 L627.09,207.04 L627.66,207.29 L628.22,207.59 L628.77,207.94 L629.30,208.34 L629.80,208.80 L630.27,209.31 L630.72,209.86 L631.15,210.47 L631.57,211.13 L631.98,211.84 L632.38,212.61 L632.79,213.43 L633.20,214.30 L633.60,215.20 L633.99,216.10 L634.37,217.05 L634.74,218.05 L635.14,219.14 L635.55,220.35 L636.00,221.69 L636.50,223.20 L637.06,224.95 L637.67,226.96 L638.32,229.14 L639.00,231.41 L639.68,233.70 L640.35,235.94 L641.00,238.03 L641.60,239.90 L642.17,241.62 L642.73,243.28 L643.27,244.87 L643.79,246.36 L644.30,247.74 L644.79,248.99 L645.26,250.08 L645.70,251.00 L646.10,251.74 L646.46,252.32 L646.78,252.75 L647.09,253.05 L647.40,253.22 L647.73,253.28 L648.09,253.23 L648.50,253.10 L648.96,252.81 L649.45,252.32 L649.98,251.68 L650.52,250.96 L651.07,250.19 L651.62,249.44 L652.17,248.76 L652.70,248.20 L653.22,247.71 L653.73,247.20 L654.24,246.72 L654.75,246.27 L655.26,245.90 L655.77,245.61 L656.28,245.43 L656.80,245.40 L657.32,245.51 L657.86,245.73 L658.40,246.07 L658.94,246.49 L659.47,247.00 L660.00,247.58 L660.51,248.22 L661.00,248.90 L661.48,249.65 L661.96,250.50 L662.43,251.42 L662.88,252.41 L663.32,253.43 L663.74,254.49 L664.13,255.55 L664.50,256.60 L664.84,257.68 L665.15,258.82 L665.44,259.99 L665.71,261.18 L665.96,262.36 L666.19,263.50 L666.40,264.59 L666.60,265.60 L666.77,266.52 L666.91,267.38 L667.03,268.19 L667.13,268.96 L667.22,269.71 L667.30,270.46 L667.40,271.22 L667.50,272.00 L675.00,272.00 L675.16,270.97 L675.31,270.00 L675.45,269.05 L675.60,268.09 L675.75,267.08 L675.92,266.00 L676.10,264.82 L676.30,263.50 L676.53,261.99 L676.78,260.30 L677.05,258.49 L677.33,256.62 L677.61,254.73 L677.89,252.90 L678.16,251.17 L678.40,249.60 L678.62,248.19 L678.84,246.90 L679.04,245.69 L679.23,244.53 L679.42,243.41 L679.61,242.30 L679.80,241.17 L680.00,240.00" fill="none" stroke="#1818c8" stroke-width="1.8" stroke-linejoin="round" />
<path d="M577.8,42.5 L576.6,72 L575.9,86 L580.0,86 L579.1,72 Z" fill="#1c1ca0"/>
<path d="M438.00,209.00 L438.16,209.37 L438.28,209.63 L438.39,209.85 L438.51,210.09 L438.65,210.42 L438.85,210.89 L439.13,211.56 L439.50,212.50 L439.99,213.74 L440.57,215.23 L441.22,216.92 L441.93,218.75 L442.67,220.68 L443.43,222.65 L444.18,224.61 L444.90,226.50 L445.61,228.38 L446.35,230.30 L447.09,232.27 L447.84,234.25 L448.58,236.23 L449.31,238.20 L450.02,240.12 L450.70,242.00 L451.36,243.85 L452.03,245.70 L452.68,247.54 L453.32,249.34 L453.93,251.11 L454.50,252.82 L455.03,254.45 L455.50,256.00 L455.92,257.48 L456.29,258.92 L456.62,260.31 L456.91,261.62 L457.16,262.87 L457.40,264.02 L457.61,265.06 L457.80,266.00 L457.96,266.79 L458.09,267.42 L458.18,267.94 L458.25,268.38 L458.31,268.76 L458.36,269.14 L458.42,269.54 L458.50,270.00" fill="none" stroke="#000" stroke-width="1.4" stroke-linejoin="round" stroke-dasharray="1.35 1.25"/>
<path d="M475.80,272.00 L475.88,271.24 L475.96,270.45 L476.04,269.66 L476.11,268.88 L476.19,268.10 L476.28,267.36 L476.38,266.65 L476.50,266.00 L476.62,265.46 L476.72,265.05 L476.82,264.71 L476.94,264.38 L477.09,264.00 L477.27,263.52 L477.50,262.87 L477.80,262.00 L478.17,260.90 L478.61,259.62 L479.11,258.20 L479.64,256.66 L480.19,255.03 L480.74,253.36 L481.29,251.67 L481.80,250.00 L482.30,248.30 L482.80,246.52 L483.30,244.68 L483.79,242.81 L484.29,240.94 L484.77,239.08 L485.24,237.26 L485.70,235.50 L486.14,233.80 L486.55,232.14 L486.95,230.52 L487.34,228.91 L487.74,227.31 L488.14,225.71 L488.56,224.11 L489.00,222.50 L489.46,220.86 L489.94,219.21 L490.43,217.56 L490.93,215.91 L491.43,214.27 L491.95,212.64 L492.47,211.05 L493.00,209.50 L493.51,208.03 L494.00,206.65 L494.48,205.33 L494.98,204.01 L495.51,202.66 L496.10,201.24 L496.75,199.70 L497.50,198.00 L498.35,196.06 L499.31,193.89 L500.33,191.58 L501.41,189.20 L502.51,186.85 L503.63,184.61 L504.73,182.56 L505.80,180.80 L506.83,179.31 L507.85,177.99 L508.85,176.84 L509.87,175.81 L510.90,174.89 L511.96,174.05 L513.05,173.26 L514.20,172.50 L515.44,171.78 L516.78,171.13 L518.17,170.55 L519.59,170.04 L520.98,169.60 L522.30,169.24 L523.53,168.96 L524.60,168.75 L525.52,168.65 L526.31,168.66 L527.01,168.76 L527.64,168.93 L528.22,169.15 L528.80,169.38 L529.38,169.60 L530.00,169.80 L530.63,169.92 L531.22,169.96 L531.80,169.98 L532.38,170.03 L532.97,170.15 L533.60,170.41 L534.27,170.84 L535.00,171.50 L535.83,172.49 L536.77,173.79 L537.76,175.31 L538.78,176.94 L539.78,178.57 L540.73,180.12 L541.58,181.46 L542.30,182.50 L542.85,183.29 L543.27,183.94 L543.59,184.46 L543.86,184.85 L544.11,185.12 L544.39,185.26 L544.74,185.29 L545.20,185.20 L545.77,185.02 L546.42,184.74 L547.12,184.35 L547.86,183.84 L548.61,183.19 L549.36,182.38 L550.10,181.38 L550.80,180.20 L551.49,178.71 L552.20,176.87 L552.91,174.80 L553.61,172.59 L554.28,170.37 L554.91,168.22 L555.49,166.26 L556.00,164.60 L556.40,163.30 L556.69,162.29 L556.90,161.47 L557.08,160.74 L557.27,159.98 L557.51,159.09 L557.84,157.96 L558.30,156.50 L558.90,154.69 L559.60,152.64 L560.37,150.39 L561.21,147.99 L562.07,145.50 L562.94,142.95 L563.79,140.40 L564.60,137.90 L565.39,135.39 L566.20,132.81 L567.02,130.17 L567.83,127.51 L568.63,124.85 L569.39,122.21 L570.12,119.62 L570.80,117.10 L571.44,114.69 L572.05,112.36 L572.64,110.10 L573.19,107.86 L573.71,105.59 L574.19,103.27 L574.62,100.85 L575.00,98.30 L575.32,95.67 L575.57,93.03 L575.77,90.34 L575.93,87.57 L576.07,84.68 L576.20,81.65 L576.34,78.43 L576.50,75.00 L576.67,71.30 L576.84,67.34 L577.00,63.18 L577.16,58.89 L577.32,54.51 L577.48,50.11 L577.64,45.76 L577.80,41.50 L577.96,45.38 L578.13,49.37 L578.30,53.40 L578.46,57.41 L578.63,61.33 L578.79,65.11 L578.95,68.69 L579.10,72.00 L579.25,75.01 L579.39,77.77 L579.53,80.32 L579.67,82.73 L579.80,85.05 L579.93,87.33 L580.07,89.63 L580.20,92.00 L580.33,94.39 L580.44,96.74 L580.55,99.05 L580.67,101.34 L580.79,103.65 L580.92,105.98 L581.07,108.36 L581.25,110.80 L581.46,113.34 L581.69,115.98 L581.94,118.67 L582.21,121.39 L582.48,124.09 L582.76,126.73 L583.03,129.28 L583.30,131.70 L583.57,133.98 L583.84,136.15 L584.12,138.24 L584.40,140.26 L584.67,142.26 L584.93,144.24 L585.18,146.25 L585.40,148.30 L585.60,150.33 L585.79,152.27 L585.96,154.19 L586.12,156.12 L586.28,158.13 L586.42,160.24 L586.56,162.51 L586.70,165.00 L586.83,167.63 L586.96,170.31 L587.08,173.11 L587.19,176.04 L587.30,179.16 L587.41,182.50 L587.50,186.10 L587.60,190.00 L587.69,194.41 L587.78,199.37 L587.86,204.69 L587.94,210.19 L588.01,215.66 L588.08,220.91 L588.14,225.76 L588.20,230.00 L588.25,233.61 L588.30,236.77 L588.33,239.57 L588.37,242.12 L588.40,244.54 L588.43,246.92 L588.46,249.37 L588.50,252.00 L588.90,252.00 L588.92,248.65 L588.94,245.32 L588.95,242.01 L588.96,238.69 L588.98,235.34 L589.01,231.96 L589.05,228.52 L589.10,225.00 L589.17,221.26 L589.26,217.24 L589.36,213.09 L589.47,208.94 L589.58,204.92 L589.69,201.16 L589.80,197.81 L589.90,195.00 L589.99,192.77 L590.06,191.02 L590.13,189.65 L590.20,188.56 L590.28,187.65 L590.36,186.82 L590.47,185.97 L590.60,185.00 L590.75,183.96 L590.92,182.95 L591.10,182.00 L591.29,181.09 L591.50,180.23 L591.72,179.43 L591.96,178.68 L592.20,178.00 L592.45,177.36 L592.72,176.75 L593.00,176.18 L593.29,175.68 L593.59,175.26 L593.91,174.92 L594.25,174.70 L594.60,174.60 L594.97,174.60 L595.37,174.66 L595.78,174.80 L596.20,175.06 L596.64,175.43 L597.08,175.95 L597.54,176.64 L598.00,177.50 L598.46,178.54 L598.91,179.73 L599.36,181.07 L599.83,182.56 L600.32,184.19 L600.84,185.98 L601.40,187.92 L602.00,190.00 L602.68,192.37 L603.45,195.10 L604.26,198.06 L605.10,201.12 L605.94,204.17 L606.73,207.09 L607.46,209.74 L608.10,212.00 L608.64,213.89 L609.12,215.53 L609.55,216.97 L609.93,218.24 L610.28,219.38 L610.61,220.45 L610.93,221.47 L611.25,222.50 L611.55,223.49 L611.80,224.39 L612.03,225.21 L612.24,225.97 L612.46,226.69 L612.70,227.37 L612.97,228.04 L613.30,228.70 L613.66,229.41 L614.04,230.19 L614.43,230.96 L614.86,231.70 L615.32,232.34 L615.83,232.84 L616.38,233.14 L617.00,233.20 L617.69,233.01 L618.46,232.61 L619.29,232.04 L620.16,231.32 L621.06,230.47 L621.95,229.51 L622.84,228.48 L623.70,227.40 L624.54,226.20 L625.37,224.83 L626.21,223.34 L627.04,221.77 L627.88,220.16 L628.72,218.57 L629.56,217.03 L630.40,215.60 L631.25,214.25 L632.10,212.92 L632.95,211.62 L633.80,210.34 L634.65,209.10 L635.50,207.87 L636.35,206.67 L637.20,205.50 L638.04,204.33 L638.86,203.17 L639.68,202.02 L640.50,200.91 L641.33,199.83 L642.16,198.81 L643.02,197.86 L643.90,197.00 L644.80,196.18 L645.70,195.36 L646.61,194.59 L647.54,193.89 L648.49,193.29 L649.46,192.83 L650.46,192.52 L651.50,192.40 L652.60,192.46 L653.77,192.65 L654.98,192.98 L656.21,193.45 L657.43,194.07 L658.62,194.83 L659.75,195.74 L660.80,196.80 L661.77,198.03 L662.70,199.44 L663.57,201.01 L664.41,202.71 L665.22,204.54 L666.00,206.48 L666.76,208.50 L667.50,210.60 L668.23,212.83 L668.95,215.22 L669.64,217.75 L670.31,220.36 L670.94,223.02 L671.54,225.67 L672.09,228.28 L672.60,230.80 L673.06,233.28 L673.47,235.77 L673.84,238.26 L674.17,240.73 L674.47,243.15 L674.74,245.52 L674.98,247.81 L675.20,250.00 L675.39,252.13 L675.53,254.23 L675.65,256.28 L675.73,258.26 L675.80,260.15 L675.86,261.91 L675.93,263.54 L676.00,265.00 L676.08,266.26 L676.15,267.31 L676.21,268.21 L676.27,269.00 L676.33,269.73 L676.38,270.44 L676.44,271.18 L676.50,272.00" fill="none" stroke="#000" stroke-width="1.4" stroke-linejoin="round" stroke-dasharray="1.35 1.25"/>
</g>
<rect x="439.8" y="22.4" width="238.3" height="243.4" fill="none" stroke="#000" stroke-width="1.5"/>
<line x1="498.20" y1="265.80" x2="498.20" y2="272.30" stroke="#000" stroke-width="1.4" stroke-linecap="butt" />
<text x="498.2" y="288.2" font-size="15.8" fill="#000" text-anchor="middle" font-weight="normal" >20</text>
<line x1="563.65" y1="265.80" x2="563.65" y2="272.30" stroke="#000" stroke-width="1.4" stroke-linecap="butt" />
<text x="563.65" y="288.2" font-size="15.8" fill="#000" text-anchor="middle" font-weight="normal" >21</text>
<rect x="564.20" y="286.29" width="3.35" height="3.11" fill="#fff"/>
<rect x="569.07" y="286.29" width="3.24" height="3.11" fill="#fff"/>
<line x1="629.10" y1="265.80" x2="629.10" y2="272.30" stroke="#000" stroke-width="1.4" stroke-linecap="butt" />
<text x="629.1" y="288.2" font-size="15.8" fill="#000" text-anchor="middle" font-weight="normal" >22</text>
<line x1="465.47" y1="265.80" x2="465.47" y2="269.80" stroke="#000" stroke-width="1.4" stroke-linecap="butt" />
<line x1="530.92" y1="265.80" x2="530.92" y2="269.80" stroke="#000" stroke-width="1.4" stroke-linecap="butt" />
<line x1="596.38" y1="265.80" x2="596.38" y2="269.80" stroke="#000" stroke-width="1.4" stroke-linecap="butt" />
<line x1="661.83" y1="265.80" x2="661.83" y2="269.80" stroke="#000" stroke-width="1.4" stroke-linecap="butt" />
<line x1="432.50" y1="39.10" x2="439.80" y2="39.10" stroke="#000" stroke-width="1.6" stroke-linecap="butt" />
<text x="429.0" y="43.6" font-size="15.8" fill="#000" text-anchor="end" font-weight="normal" >1</text>
<rect x="420.77" y="41.69" width="3.35" height="3.11" fill="#fff"/>
<rect x="425.63" y="41.69" width="3.24" height="3.11" fill="#fff"/>
<line x1="432.50" y1="100.10" x2="439.80" y2="100.10" stroke="#000" stroke-width="1.6" stroke-linecap="butt" />
<text x="429.0" y="104.6" font-size="15.8" fill="#000" text-anchor="end" font-weight="normal" >0.1</text>
<rect x="420.77" y="102.69" width="3.35" height="3.11" fill="#fff"/>
<rect x="425.63" y="102.69" width="3.24" height="3.11" fill="#fff"/>
<line x1="432.50" y1="161.10" x2="439.80" y2="161.10" stroke="#000" stroke-width="1.6" stroke-linecap="butt" />
<text x="429.0" y="165.6" font-size="15.8" fill="#000" text-anchor="end" font-weight="normal" >0.01</text>
<rect x="420.77" y="163.69" width="3.35" height="3.11" fill="#fff"/>
<rect x="425.63" y="163.69" width="3.24" height="3.11" fill="#fff"/>
<line x1="432.50" y1="222.10" x2="439.80" y2="222.10" stroke="#000" stroke-width="1.6" stroke-linecap="butt" />
<text x="429.0" y="226.6" font-size="15.8" fill="#000" text-anchor="end" font-weight="normal" >1E-3</text>
<rect x="396.18" y="224.69" width="3.35" height="3.11" fill="#fff"/>
<rect x="401.04" y="224.69" width="3.24" height="3.11" fill="#fff"/>
<line x1="435.00" y1="81.74" x2="439.80" y2="81.74" stroke="#000" stroke-width="1.5" stroke-linecap="butt" />
<line x1="435.00" y1="71.00" x2="439.80" y2="71.00" stroke="#000" stroke-width="1.5" stroke-linecap="butt" />
<line x1="435.00" y1="63.37" x2="439.80" y2="63.37" stroke="#000" stroke-width="1.5" stroke-linecap="butt" />
<line x1="435.00" y1="57.46" x2="439.80" y2="57.46" stroke="#000" stroke-width="1.5" stroke-linecap="butt" />
<line x1="435.00" y1="52.63" x2="439.80" y2="52.63" stroke="#000" stroke-width="1.5" stroke-linecap="butt" />
<line x1="435.00" y1="48.55" x2="439.80" y2="48.55" stroke="#000" stroke-width="1.5" stroke-linecap="butt" />
<line x1="435.00" y1="45.01" x2="439.80" y2="45.01" stroke="#000" stroke-width="1.5" stroke-linecap="butt" />
<line x1="435.00" y1="41.89" x2="439.80" y2="41.89" stroke="#000" stroke-width="1.5" stroke-linecap="butt" />
<line x1="435.00" y1="142.74" x2="439.80" y2="142.74" stroke="#000" stroke-width="1.5" stroke-linecap="butt" />
<line x1="435.00" y1="132.00" x2="439.80" y2="132.00" stroke="#000" stroke-width="1.5" stroke-linecap="butt" />
<line x1="435.00" y1="124.37" x2="439.80" y2="124.37" stroke="#000" stroke-width="1.5" stroke-linecap="butt" />
<line x1="435.00" y1="118.46" x2="439.80" y2="118.46" stroke="#000" stroke-width="1.5" stroke-linecap="butt" />
<line x1="435.00" y1="113.63" x2="439.80" y2="113.63" stroke="#000" stroke-width="1.5" stroke-linecap="butt" />
<line x1="435.00" y1="109.55" x2="439.80" y2="109.55" stroke="#000" stroke-width="1.5" stroke-linecap="butt" />
<line x1="435.00" y1="106.01" x2="439.80" y2="106.01" stroke="#000" stroke-width="1.5" stroke-linecap="butt" />
<line x1="435.00" y1="102.89" x2="439.80" y2="102.89" stroke="#000" stroke-width="1.5" stroke-linecap="butt" />
<line x1="435.00" y1="203.74" x2="439.80" y2="203.74" stroke="#000" stroke-width="1.5" stroke-linecap="butt" />
<line x1="435.00" y1="193.00" x2="439.80" y2="193.00" stroke="#000" stroke-width="1.5" stroke-linecap="butt" />
<line x1="435.00" y1="185.37" x2="439.80" y2="185.37" stroke="#000" stroke-width="1.5" stroke-linecap="butt" />
<line x1="435.00" y1="179.46" x2="439.80" y2="179.46" stroke="#000" stroke-width="1.5" stroke-linecap="butt" />
<line x1="435.00" y1="174.63" x2="439.80" y2="174.63" stroke="#000" stroke-width="1.5" stroke-linecap="butt" />
<line x1="435.00" y1="170.55" x2="439.80" y2="170.55" stroke="#000" stroke-width="1.5" stroke-linecap="butt" />
<line x1="435.00" y1="167.01" x2="439.80" y2="167.01" stroke="#000" stroke-width="1.5" stroke-linecap="butt" />
<line x1="435.00" y1="163.89" x2="439.80" y2="163.89" stroke="#000" stroke-width="1.5" stroke-linecap="butt" />
<line x1="435.00" y1="264.74" x2="439.80" y2="264.74" stroke="#000" stroke-width="1.5" stroke-linecap="butt" />
<line x1="435.00" y1="254.00" x2="439.80" y2="254.00" stroke="#000" stroke-width="1.5" stroke-linecap="butt" />
<line x1="435.00" y1="246.37" x2="439.80" y2="246.37" stroke="#000" stroke-width="1.5" stroke-linecap="butt" />
<line x1="435.00" y1="240.46" x2="439.80" y2="240.46" stroke="#000" stroke-width="1.5" stroke-linecap="butt" />
<line x1="435.00" y1="235.63" x2="439.80" y2="235.63" stroke="#000" stroke-width="1.5" stroke-linecap="butt" />
<line x1="435.00" y1="231.55" x2="439.80" y2="231.55" stroke="#000" stroke-width="1.5" stroke-linecap="butt" />
<line x1="435.00" y1="228.01" x2="439.80" y2="228.01" stroke="#000" stroke-width="1.5" stroke-linecap="butt" />
<line x1="435.00" y1="224.89" x2="439.80" y2="224.89" stroke="#000" stroke-width="1.5" stroke-linecap="butt" />
<text transform="translate(517.55,309.00) scale(1.0740,1)" font-size="18" fill="#000" text-anchor="start" >Energy (eV)</text>
<text transform="translate(365.30,148.40) rotate(-90) scale(1.0600,1)" font-size="18" fill="#000" text-anchor="middle" >Normalized Absorption</text>
<text transform="translate(387.80,147.70) rotate(-90) scale(1.0670,1)" font-size="18" fill="#000" text-anchor="middle" >Cross Section</text>
<line x1="445.00" y1="36.70" x2="474.00" y2="36.70" stroke="#000" stroke-width="1.3" stroke-linecap="butt" stroke-dasharray="1.3 1.7"/>
<line x1="445.00" y1="53.00" x2="476.00" y2="53.00" stroke="#1818c8" stroke-width="1.7" stroke-linecap="butt" />
<line x1="445.00" y1="69.50" x2="476.00" y2="69.50" stroke="#3ce03c" stroke-width="1.6" stroke-linecap="butt" />
<text x="478.6" y="40.3" font-size="13.6" fill="#000" text-anchor="start" font-weight="normal" >Full Basis Set</text>
<text x="478.6" y="56.9" font-size="13.6" fill="#000" text-anchor="start" font-weight="normal" >No 1s2s, 1s4s</text>
<text x="478.6" y="73.0" font-size="13.6" fill="#000" text-anchor="start" font-weight="normal" >No 1s3s, 1s3d</text>
<rect x="500.24" y="55.17" width="2.88" height="2.93" fill="#fff"/>
<rect x="504.43" y="55.17" width="2.79" height="2.93" fill="#fff"/>
<rect x="536.52" y="55.17" width="2.88" height="2.93" fill="#fff"/>
<rect x="540.71" y="55.17" width="2.79" height="2.93" fill="#fff"/>
<rect x="500.24" y="71.27" width="2.88" height="2.93" fill="#fff"/>
<rect x="504.43" y="71.27" width="2.79" height="2.93" fill="#fff"/>
<rect x="536.52" y="71.27" width="2.88" height="2.93" fill="#fff"/>
<rect x="540.71" y="71.27" width="2.79" height="2.93" fill="#fff"/>
<text x="588.25" y="130.4" font-size="16.3" fill="#2222cc" text-anchor="start" font-weight="normal" >3s</text>
<line x1="605.30" y1="120.50" x2="607.90" y2="120.50" stroke="#2222cc" stroke-width="1.2" stroke-linecap="butt" />
<text x="608.2" y="130.4" font-size="16.3" fill="#222" text-anchor="start" font-weight="normal" >,</text>
<text x="617.15" y="130.4" font-size="16.3" fill="#33cc33" text-anchor="start" font-weight="normal" >3d</text>
<line x1="635.40" y1="120.50" x2="638.00" y2="120.50" stroke="#33cc33" stroke-width="1.2" stroke-linecap="butt" />
<text x="621.0" y="159.3" font-size="16.3" fill="#2222cc" text-anchor="start" font-weight="normal" >2s</text>
<line x1="638.90" y1="149.20" x2="643.30" y2="149.20" stroke="#2222cc" stroke-width="1.1" stroke-linecap="butt" />
<line x1="641.10" y1="147.00" x2="641.10" y2="151.40" stroke="#2222cc" stroke-width="1.1" stroke-linecap="butt" />
<text x="643.6" y="159.3" font-size="16.3" fill="#222" text-anchor="start" font-weight="normal" >,</text>
<text x="652.5" y="159.3" font-size="16.3" fill="#2222cc" text-anchor="start" font-weight="normal" >4s</text>
<line x1="670.60" y1="149.80" x2="673.00" y2="149.80" stroke="#2222cc" stroke-width="1.2" stroke-linecap="butt" />
<line x1="595.40" y1="134.20" x2="595.40" y2="162.00" stroke="#30d030" stroke-width="1.5" stroke-linecap="butt" />
<path d="M595.4,172 L600.4,162 L595.4,163.5 L590.4,162 Z" fill="#30d030"/>
<line x1="647.50" y1="164.60" x2="647.50" y2="180.00" stroke="#1010d0" stroke-width="1.8" stroke-linecap="butt" />
<path d="M647.5,187.3 L652.0,178.3 L647.5,179.8 L643.0,178.3 Z" fill="#1010d0"/></svg>
</body></html>
